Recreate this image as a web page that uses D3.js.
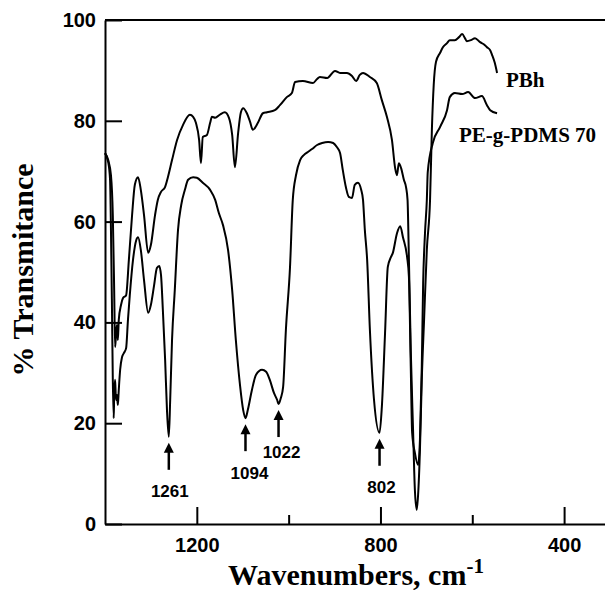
<!DOCTYPE html>
<html>
<head>
<meta charset="utf-8">
<script src="https://cdn.jsdelivr.net/npm/d3@7"></script>
<style>
  body { margin: 0; background: #fff; }
  svg { display: block; }
</style>
</head>
<body>
<script>
// IR spectra (wavenumber, % transmittance)
var pbhWn = [1400,1393,1387,1383,1380,1378,1376,1374,1372,1370,1365,1361,1354,1348,1341,1335,1328,1322,1315,1306,
  1300,1291,1285,1278,1269,1263,1254,1243,1230,1215,1208,1202,1195,1191,1187,1178,1171,1167,1160,1150,
  1139,1130,1123,1117,1110,1104,1099,1091,1084,1078,1067,1056,1047,1030,1019,1004,993,986,969,947,
  938,932,916,899,888,873,862,853,845,838,823,808,797,786,775,768,764,760,755,749,
  744,741,738,734,729,725,721,718,714,710,705,699,692,688,684,679,670,664,655,649,
  638,629,622,616,612,603,594,583,575,568,561,557,551,546];
var pbhT = [73.6,72.2,69.2,61.3,46.4,35.1,37.5,39.5,36.5,40.5,43.5,44.8,45.4,52.4,61.3,67.3,68.8,66.3,61.3,53.8,
  55.4,61.3,64.3,65.9,66.9,68.8,72.2,76.2,79.2,81.2,80.8,79.6,76.2,71.6,76.8,77.2,79.6,80.8,80.6,81.2,
  81.7,80.6,77.2,70.8,77.6,81.7,82.5,81.5,79.8,78.2,79.6,81.5,81.7,82.1,83.1,84.7,85.5,87.7,87.9,87.5,
  88.3,88.7,88.5,89.9,89.5,89.5,88.9,87.9,89.1,89.5,88.7,87.5,84.1,80.8,76.2,70.6,69.2,71.6,70.6,68.3,
  66.7,64.3,52.4,34.5,18.7,6.7,2.8,5.8,14.7,28.6,40.5,54.4,64.3,78.2,87.1,91.7,93.5,94.6,95.4,96.0,
  96.0,96.6,97.2,96.4,95.8,96.0,96.4,95.6,95.2,94.6,94.0,93.1,91.5,89.5];

var pdmsWn = [1400,1393,1389,1387,1385,1383,1381,1380,1378,1376,1374,1372,1370,1367,1363,1359,1354,1350,1346,1339,
  1332,1328,1322,1315,1306,1300,1293,1287,1282,1278,1274,1269,1265,1261,1258,1254,1248,1241,1234,1226,
  1219,1208,1200,1187,1171,1160,1152,1143,1132,1123,1115,1106,1099,1094,1089,1080,1071,1058,1049,1041,
  1032,1025,1022,1017,1012,1006,997,991,984,975,967,958,949,938,927,914,903,895,888,882,
  875,869,862,856,849,842,838,834,829,823,814,802,797,790,784,777,773,764,757,751,
  742,738,734,731,725,718,714,710,707,703,699,697,686,670,655,649,638,622,609,594,
  579,568,561,546];
var pdmsT = [73.6,71.8,68.3,58.3,44.4,28.6,21.0,25.6,28.6,24.6,25.6,23.6,26.6,30.6,33.1,33.9,34.9,40.5,45.4,52.4,
  56.3,56.9,54.4,48.4,41.9,43.5,47.4,50.8,51.2,49.4,42.5,32.5,22.6,17.3,24.6,36.5,46.4,58.3,63.3,66.3,
  68.3,68.8,68.7,67.7,66.3,64.3,61.7,59.3,54.4,46.4,36.5,27.6,22.6,21.0,22.6,26.6,29.6,30.6,30.2,28.6,
  26.0,24.6,23.8,25.0,27.2,38.5,51.0,64.3,69.2,72.2,73.2,73.8,74.4,75.2,75.6,75.8,75.6,74.8,73.6,70.2,
  66.7,64.9,64.7,67.3,67.7,66.3,64.3,58.3,52.4,38.5,24.6,18.1,23.2,37.9,51.0,53.0,53.8,57.7,59.1,56.9,
  53.0,49.0,31.2,18.1,14.1,11.7,16.7,31.2,47.8,57.7,64.3,69.8,75.6,78.8,82.1,84.7,85.5,85.3,85.7,84.5,
  84.9,83.1,82.1,81.5];

var seriesNames = ["PBh", "PE-g-PDMS 70"];

// marked bands of PE-g-PDMS 70
var peakWn = [1261, 1094, 1022, 802];
var peakT = [17.3, 21.0, 23.8, 18.1];
var peakLabels = ["1261", "1094", "1022", "802"];

var xTicks = [1200, 800, 400];
var xMinorTicks = [1000, 600];
var yTicks = [0, 20, 40, 60, 80, 100];

window.onload = function() {
    var w = 605, h = 593;
    var left = 105, top = 20, bottom = 524;

    var svg = d3.select("body").append("svg")
        .attr("width", w)
        .attr("height", h);

    // x axis runs high -> low, frame goes on past the right edge
    var x = d3.scaleLinear()
        .domain([1400, 200])
        .range([left, left + 1200 * 0.4591]);
    var y = d3.scaleLinear()
        .domain([0, 100])
        .range([bottom, top]);

    var tickFont = "'Liberation Sans', Arial, sans-serif";
    var serif = "'Liberation Serif', 'Times New Roman', serif";

    // top border
    svg.append("line")
        .attr("x1", left).attr("x2", x(200))
        .attr("y1", top).attr("y2", top)
        .attr("stroke", "#000").attr("stroke-width", 2);

    // minor ticks on x
    svg.append("g")
        .attr("transform", "translate(0," + bottom + ")")
        .call(d3.axisBottom(x).tickValues(xMinorTicks).tickSize(-9).tickSizeOuter(0).tickFormat(""))
        .call(function(g) { g.select(".domain").remove(); })
        .selectAll("line").attr("stroke-width", 2);

    var xAxis = svg.append("g")
        .attr("transform", "translate(0," + bottom + ")")
        .call(d3.axisBottom(x).tickValues(xTicks).tickSize(-17).tickSizeOuter(0).tickPadding(14).tickFormat(d3.format("d")));
    xAxis.select(".domain").attr("stroke-width", 2);
    xAxis.selectAll("line").attr("stroke-width", 2);
    xAxis.selectAll("text")
        .attr("font-family", tickFont)
        .attr("font-weight", "bold")
        .attr("font-size", 20)
        .attr("fill", "#000");

    var yAxis = svg.append("g")
        .attr("transform", "translate(" + left + ",0)")
        .call(d3.axisLeft(y).tickValues(yTicks).tickSize(-17).tickSizeOuter(0).tickPadding(9));
    yAxis.select(".domain").attr("stroke-width", 2);
    yAxis.selectAll("line").attr("stroke-width", 2);
    yAxis.selectAll("text")
        .attr("font-family", tickFont)
        .attr("font-weight", "bold")
        .attr("font-size", 20)
        .attr("fill", "#000");

    // spectra
    var line = d3.line()
        .x(function(d) { return x(d[0]); })
        .y(function(d) { return y(d[1]); })
        .curve(d3.curveMonotoneX);

    var spectra = [d3.zip(pbhWn, pbhT), d3.zip(pdmsWn, pdmsT)];
    svg.selectAll(".spec")
        .data(spectra)
        .enter()
        .append("path")
        .attr("class", "spec")
        .attr("d", line)
        .attr("fill", "none")
        .attr("stroke", "#000")
        .attr("stroke-width", 2)
        .attr("stroke-linejoin", "round");

    // series names next to the line ends
    var namePos = [[506, 87], [459, 142]];
    svg.selectAll(".sname")
        .data(seriesNames)
        .enter()
        .append("text")
        .attr("x", function(d, i) { return namePos[i][0]; })
        .attr("y", function(d, i) { return namePos[i][1]; })
        .attr("font-family", serif)
        .attr("font-weight", "bold")
        .attr("font-size", 21)
        .text(function(d) { return d; });

    // arrows + band labels
    var labelDy = [54, 55, 48, 54];
    var labelDx = [1, 4, 3, 2];
    peakWn.forEach(function(wn, i) {
        var px = x(wn);
        var tip = y(peakT[i]) + 6;
        svg.append("line")
            .attr("x1", px).attr("x2", px)
            .attr("y1", tip + 6).attr("y2", tip + 27)
            .attr("stroke", "#000").attr("stroke-width", 2.5);
        svg.append("path")
            .attr("d", "M" + px + "," + tip + "L" + (px - 5) + "," + (tip + 10) + "L" + (px + 5) + "," + (tip + 10) + "Z")
            .attr("fill", "#000");
        svg.append("text")
            .attr("x", px + labelDx[i])
            .attr("y", tip + labelDy[i])
            .attr("text-anchor", "middle")
            .attr("font-family", tickFont)
            .attr("font-weight", "bold")
            .attr("font-size", 17)
            .text(peakLabels[i]);
    });

    // axis titles
    var xt = svg.append("text")
        .attr("x", 356)
        .attr("y", 585)
        .attr("text-anchor", "middle")
        .attr("font-family", serif)
        .attr("font-weight", "bold")
        .attr("font-size", 30);
    xt.append("tspan").text("Wavenumbers, cm");
    xt.append("tspan").attr("dy", -12).attr("font-size", 21).text("-1");

    svg.append("text")
        .attr("transform", "translate(33,270) rotate(-90)")
        .attr("text-anchor", "middle")
        .attr("font-family", serif)
        .attr("font-weight", "bold")
        .attr("font-size", 30)
        .text("% Transmitance");
};
</script>
</body>
</html>
